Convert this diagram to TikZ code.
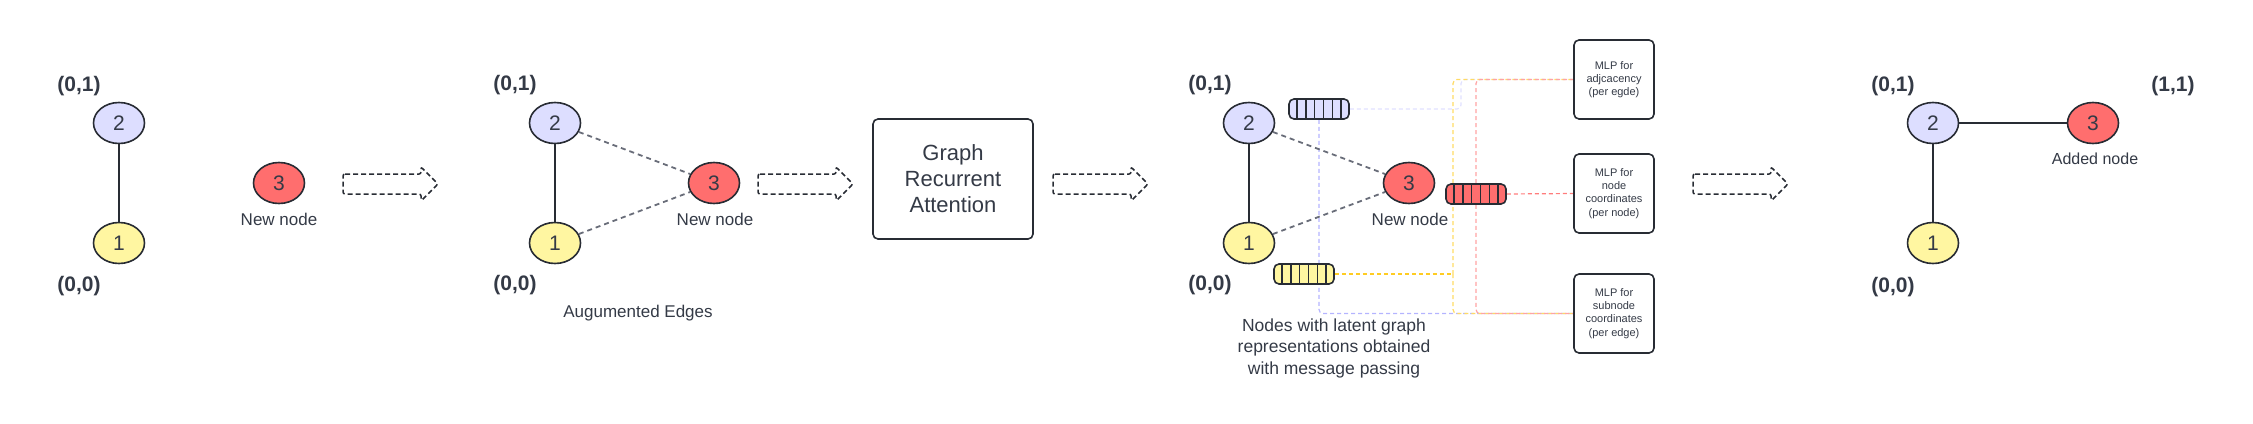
\documentclass[tikz,border=0pt]{standalone}
\usepackage{fontspec}
\setmainfont{Liberation Sans}
\usetikzlibrary{shapes.geometric,calc}

\definecolor{ink}{HTML}{343A46}
\definecolor{linec}{HTML}{282C34}
\definecolor{lav}{HTML}{DDDEFF}
\definecolor{lemon}{HTML}{FFF6A1}
\definecolor{salmon}{HTML}{FF6E6E}
\definecolor{edgegray}{HTML}{696D79}
\definecolor{dblue}{HTML}{B4B4FF}
\definecolor{dbluelight}{HTML}{E0E0FF}
\definecolor{dyellow}{HTML}{FFCC22}
\definecolor{dred}{HTML}{FF7C7C}

\pgfdeclarelayer{bg}
\pgfsetlayers{bg,main}

\tikzset{
	blockarrow/.pic={
		\draw[line width=1.5pt, dash pattern=on 5pt off 3pt, draw=linec, rounded corners=2pt]
			(0,-10) -- (78,-10) -- (78,-17) -- (95,0) -- (78,17) -- (78,10) -- (0,10) -- cycle;
	}
}

\begin{document}
\begin{tikzpicture}[x=1pt, y=-1pt,
	every node/.style={text=ink},
	vertex/.style={ellipse, draw=linec, line width=1.6pt, minimum width=51pt, minimum height=41pt,
		inner sep=0pt, font=\fontsize{21}{25}\selectfont},
	coordlabel/.style={font=\fontsize{21}{25}\selectfont\bfseries},
	notetext/.style={font=\fontsize{17}{21}\selectfont},
	edge/.style={draw=linec, line width=1.8pt},
	augedge/.style={draw=edgegray, line width=1.8pt, dash pattern=on 5pt off 4pt},
	vec/.style={draw=linec, line width=1.6pt, rounded corners=5pt, minimum width=60pt,
		minimum height=20pt, inner sep=0pt},
	mlp/.style={draw=linec, line width=1.6pt, rounded corners=5pt, minimum width=80pt,
		minimum height=79pt, inner sep=0pt, align=center, font=\fontsize{11}{13.3}\selectfont},
	feed/.style={line width=1.2pt, dash pattern=on 4pt off 3pt, rounded corners=4pt}]

	\useasboundingbox (0,0) rectangle (2253,423);

	%----------------------------------------------------
	% Graph before the step: nodes 1, 2 and a new node 3
	%----------------------------------------------------
	\node[vertex, fill=lav] (A2) at (119,123) {2};
	\node[vertex, fill=lemon] (A1) at (119,243) {1};
	\node[vertex, fill=salmon] (A3) at (279,183) {3};
	\node[coordlabel] (A2c) at (79,86) {(0,1)};
	\node[coordlabel] (A1c) at (79,286) {(0,0)};
	\node[notetext] (A3t) at (279,219) {New node};
	\draw[edge] (A2) -- (A1);

	\pic at (343,184) {blockarrow};

	%----------------------------------------------------
	% Augmented edges towards the new node
	%----------------------------------------------------
	\node[vertex, fill=lav] (B2) at (555,123) {2};
	\node[vertex, fill=lemon] (B1) at (555,243) {1};
	\node[vertex, fill=salmon] (B3) at (714,183) {3};
	\node[coordlabel] (B2c) at (515,85) {(0,1)};
	\node[coordlabel] (B1c) at (515,285) {(0,0)};
	\node[notetext] (B3t) at (715,219) {New node};
	\node[notetext] (Bt) at (638,313) {Augumented Edges};
	\draw[edge] (B2) -- (B1);
	\draw[augedge] (B2) -- (B3);
	\draw[augedge] (B1) -- (B3);

	\pic at (758,184) {blockarrow};

	\node[draw=linec, line width=1.6pt, rounded corners=5pt, minimum width=160pt, minimum height=120pt,
		align=center, font=\fontsize{22}{26}\selectfont] (gra) at (953,179) {Graph\\Recurrent\\Attention};

	\pic at (1053,184) {blockarrow};

	%----------------------------------------------------
	% Latent representations and the three MLP heads
	%----------------------------------------------------
	\node[vertex, fill=lav] (C2) at (1249,123) {2};
	\node[vertex, fill=lemon] (C1) at (1249,243) {1};
	\node[vertex, fill=salmon] (C3) at (1409,183) {3};
	\node[coordlabel] (C2c) at (1210,85) {(0,1)};
	\node[coordlabel] (C1c) at (1210,285) {(0,0)};
	\node[notetext] (C3t) at (1410,219) {New node};
	\draw[edge] (C2) -- (C1);
	\draw[augedge] (C2) -- (C3);
	\draw[augedge] (C1) -- (C3);

	\node[vec, fill=lav] (vb) at (1319,109) {};
	\node[vec, fill=lemon] (vy) at (1304,274) {};
	\node[vec, fill=salmon] (vr) at (1476,194) {};
	\foreach \v in {vb,vy,vr}
		\foreach \k in {1,...,6}
			\draw[draw=linec, line width=1.4pt] ($(\v.north west)!\k/7!(\v.north east)$) -- ($(\v.south west)!\k/7!(\v.south east)$);

	\node[mlp] (M1) at (1614,79.5) {MLP for\\adjcacency\\(per egde)};
	\node[mlp] (M2) at (1614,193.5) {MLP for\\node\\coordinates\\(per node)};
	\node[mlp] (M3) at (1614,313.5) {MLP for\\subnode\\coordinates\\(per edge)};

	\node[align=center, font=\fontsize{17.5}{21.5}\selectfont] (Ct) at (1334,348)
		{Nodes with latent graph\\representations obtained\\with message passing};

	\begin{pgfonlayer}{bg}
		\draw[feed, draw=dbluelight] (vb.east) -- (1461,109) |- (M1.west);
		\draw[feed, draw=dblue] (vb.south) |- (M3.west);
		\coordinate (yj) at (1453,274);
		\draw[feed, draw=dyellow] (vy.east) -- (yj);
		\draw[feed, draw=dyellow!70] (yj) |- (M1.west);
		\draw[feed, draw=dyellow!70] (yj) |- (M3.west);
		\draw[feed, draw=dred] (vr.east) -- (M2.west);
		\draw[feed, draw=dred!70] (vr.north) |- (M1.west);
		\draw[feed, draw=dred!70] (vr.south) |- (M3.west);
	\end{pgfonlayer}

	\pic at (1693,184) {blockarrow};

	%----------------------------------------------------
	% Graph after the step: node 3 placed at (1,1)
	%----------------------------------------------------
	\node[vertex, fill=lav] (D2) at (1933,123) {2};
	\node[vertex, fill=lemon] (D1) at (1933,243) {1};
	\node[vertex, fill=salmon] (D3) at (2093,123) {3};
	\node[coordlabel] (D2c) at (1893,86) {(0,1)};
	\node[coordlabel] (D1c) at (1893,287) {(0,0)};
	\node[coordlabel] (D3c) at (2173,86) {(1,1)};
	\node[font=\fontsize{16}{19}\selectfont] (D3t) at (2095,159) {Added node};
	\draw[edge] (D2) -- (D1);
	\draw[edge] (D2) -- (D3);
\end{tikzpicture}
\end{document}
